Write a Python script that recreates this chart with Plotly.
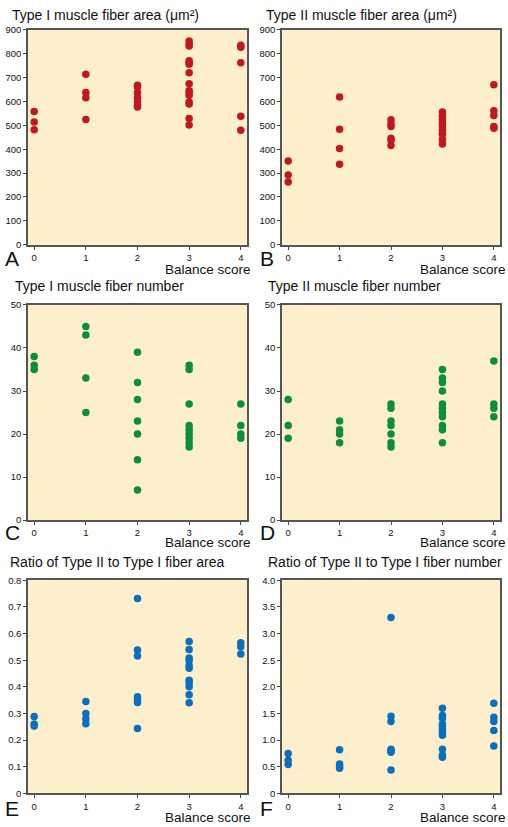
import plotly.graph_objects as go

# ---------------- data ----------------
balance_scores = [0, 1, 2, 3, 4]
x_tick_labels = ["0", "1", "2", "3", "4"]

type1_area = {
    0: [558, 514, 481],
    1: [713, 637, 615, 524],
    2: [667, 660, 636, 615, 598, 583, 577],
    3: [853, 840, 832, 770, 762, 755, 720, 674, 645, 636, 626, 597, 589, 528, 501],
    4: [835, 826, 762, 538, 479],
}
type2_area = {
    0: [351, 292, 263],
    1: [618, 483, 403, 337],
    2: [523, 505, 495, 446, 437, 415],
    3: [556, 540, 525, 510, 497, 480, 468, 462, 440, 422],
    4: [670, 561, 541, 495, 488],
}
type1_number = {
    0: [38, 36, 35],
    1: [45, 43, 33, 25],
    2: [39, 32, 28, 23, 20, 14, 7],
    3: [36, 35, 27, 22, 21, 20, 19, 18, 17],
    4: [27, 22, 20, 19],
}
type2_number = {
    0: [28, 22, 19],
    1: [23, 21, 20, 18],
    2: [27, 26, 23, 22, 20, 18, 17],
    3: [35, 33, 32, 30, 27, 26, 25, 24, 22, 21, 18],
    4: [37, 27, 26, 24],
}
ratio_area = {
    0: [0.289, 0.260, 0.253],
    1: [0.345, 0.300, 0.280, 0.261],
    2: [0.732, 0.538, 0.516, 0.363, 0.353, 0.341, 0.244],
    3: [0.570, 0.540, 0.508, 0.500, 0.480, 0.470, 0.425, 0.415, 0.400, 0.370, 0.340],
    4: [0.565, 0.550, 0.523],
}
ratio_number = {
    0: [0.75, 0.62, 0.54],
    1: [0.82, 0.55, 0.51, 0.47],
    2: [3.30, 1.45, 1.35, 0.83, 0.80, 0.77, 0.44],
    3: [1.60, 1.46, 1.41, 1.30, 1.25, 1.20, 1.15, 1.09, 0.83, 0.72, 0.68],
    4: [1.69, 1.43, 1.35, 1.18, 0.89],
}

titles = [
    "Type I muscle fiber area (\u03bcm\u00b2)",
    "Type II muscle fiber area (\u03bcm\u00b2)",
    "Type I muscle fiber number",
    "Type II muscle fiber number",
    "Ratio of Type II to Type I fiber area",
    "Ratio of Type II to Type I fiber number",
]
panel_letters = ["A", "B", "C", "D", "E", "F"]
x_axis_label = "Balance score"

area_ticks = [0, 100, 200, 300, 400, 500, 600, 700, 800, 900]
area_ticklabels = ["0", "100", "200", "300", "400", "500", "600", "700", "800", "900"]
number_ticks = [0, 10, 20, 30, 40, 50]
number_ticklabels = ["0", "10", "20", "30", "40", "50"]
ratio_area_ticks = [0, 0.1, 0.2, 0.3, 0.4, 0.5, 0.6, 0.7, 0.8]
ratio_area_ticklabels = ["0", "0.1", "0.2", "0.3", "0.4", "0.5", "0.6", "0.7", "0.8"]
ratio_number_ticks = [0, 0.5, 1.0, 1.5, 2.0, 2.5, 3.0, 3.5, 4.0]
ratio_number_ticklabels = ["0", "0.5", "1.0", "1.5", "2.0", "2.5", "3.0", "3.5", "4.0"]

RED = "#C3161F"
GREEN = "#0B8E3E"
BLUE = "#0B6FBF"

panels = [
    (type1_area, RED, [0, 900], area_ticks, area_ticklabels),
    (type2_area, RED, [0, 900], area_ticks, area_ticklabels),
    (type1_number, GREEN, [0, 50], number_ticks, number_ticklabels),
    (type2_number, GREEN, [0, 50], number_ticks, number_ticklabels),
    (ratio_area, BLUE, [0, 0.8], ratio_area_ticks, ratio_area_ticklabels),
    (ratio_number, BLUE, [0, 4.0], ratio_number_ticks, ratio_number_ticklabels),
]

# ---------------- layout geometry (pixels) ----------------
W, H = 508, 827
col_x = [(28, 247), (282, 500)]
row_y = [(24, 242), (303, 521), (582, 798)]
title_x = [[10, 264], [13, 266], [8, 266]]
title_y = [9, 284, 564]
letter_x = [3, 258]
letter_y = [256, 534, 813]
bscore_x = [253, 508]
bscore_y = [267, 544, 822]

FONT = "Liberation Sans, Arial, Helvetica, sans-serif"

fig = go.Figure()
layout = dict(
    width=W, height=H,
    margin=dict(l=0, r=0, t=0, b=0),
    paper_bgcolor="white",
    plot_bgcolor="#FDEFCB",
    showlegend=False,
    font=dict(family=FONT, color="#222"),
)
annotations = []

for i, (data, color, yr, yt, ytl) in enumerate(panels):
    r, c = divmod(i, 2)
    n = i + 1
    xs, ys = [], []
    for s in balance_scores:
        for v in data[s]:
            xs.append(s)
            ys.append(v)
    xa = "x" if n == 1 else f"x{n}"
    ya = "y" if n == 1 else f"y{n}"
    fig.add_trace(go.Scatter(
        x=xs, y=ys, mode="markers", xaxis=xa, yaxis=ya,
        marker=dict(color=color, size=7.5, line=dict(width=0)),
        hoverinfo="x+y",
    ))
    x0, x1 = col_x[c]
    y0, y1 = row_y[r]
    xkey = "xaxis" if n == 1 else f"xaxis{n}"
    ykey = "yaxis" if n == 1 else f"yaxis{n}"
    layout[xkey] = dict(
        domain=[x0 / W, x1 / W], anchor=ya, range=[-0.12, 4.12],
        tickvals=balance_scores, ticktext=x_tick_labels,
        ticks="outside", ticklen=3, tickwidth=1, tickcolor="#444",
        showgrid=False, zeroline=False,
        showline=True, mirror=True, linecolor="#555", linewidth=1.5,
        tickfont=dict(size=9.5, color="#111", family=FONT),
        fixedrange=True,
    )
    layout[ykey] = dict(
        domain=[1 - y1 / H, 1 - y0 / H], anchor=xa, range=yr,
        tickvals=yt, ticktext=ytl,
        ticks="outside", ticklen=3, tickwidth=1, tickcolor="#444",
        showgrid=False, zeroline=False,
        showline=True, mirror=True, linecolor="#555", linewidth=1.5,
        tickfont=dict(size=9.5, color="#111", family=FONT),
        fixedrange=True,
    )
    annotations.append(dict(
        text=titles[i], xref="paper", yref="paper",
        x=title_x[r][c] / W, y=1 - title_y[r] / H,
        xanchor="left", yanchor="middle", showarrow=False,
        font=dict(size=14, color="#111", family=FONT),
    ))
    annotations.append(dict(
        text=panel_letters[i], xref="paper", yref="paper",
        x=letter_x[c] / W, y=1 - letter_y[r] / H,
        xanchor="left", yanchor="middle", showarrow=False,
        font=dict(size=21, color="#111", family=FONT),
    ))
    annotations.append(dict(
        text=x_axis_label, xref="paper", yref="paper",
        x=bscore_x[c] / W, y=1 - bscore_y[r] / H,
        xanchor="right", yanchor="middle", showarrow=False,
        font=dict(size=13.5, color="#111", family=FONT),
    ))

layout["annotations"] = annotations
fig.update_layout(**layout)
fig.write_html(
    "out.html",
    config={"displayModeBar": False},
    post_script="document.body.style.margin='0';document.body.style.overflow='hidden';",
)
